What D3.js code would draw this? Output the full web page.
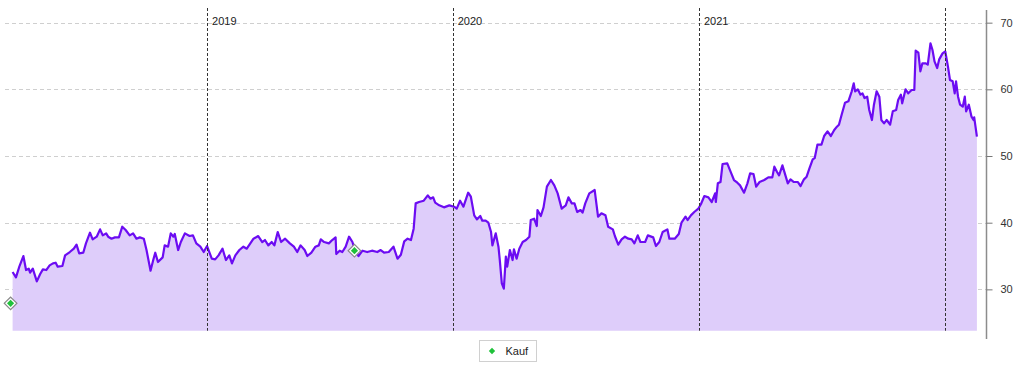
<!DOCTYPE html>
<html>
<head>
<meta charset="utf-8">
<script src="https://cdn.jsdelivr.net/npm/d3@7"></script>
<style>
  html, body { margin: 0; padding: 0; background: #fff; }
  svg { display: block; font-family: "Liberation Sans", Arial, sans-serif; }
</style>
</head>
<body>
<div id="chart"></div>
<script>
/* global d3 */

// closing prices
var priceSeries = [
  ["2018-03-18", 32.6], ["2018-03-23", 31.8], ["2018-03-28", 33.4], ["2018-04-03", 35.0],
  ["2018-04-07", 32.9], ["2018-04-11", 33.1], ["2018-04-13", 32.5], ["2018-04-17", 33.1],
  ["2018-04-23", 31.2], ["2018-04-28", 32.3], ["2018-05-02", 33.0], ["2018-05-07", 32.9],
  ["2018-05-12", 33.6], ["2018-05-17", 33.9], ["2018-05-21", 34.0], ["2018-05-24", 33.4],
  ["2018-05-31", 33.5], ["2018-06-04", 35.1], ["2018-06-11", 35.6], ["2018-06-17", 36.1],
  ["2018-06-21", 36.7], ["2018-06-25", 35.4], ["2018-07-01", 35.5], ["2018-07-05", 36.9],
  ["2018-07-11", 38.5], ["2018-07-15", 37.5], ["2018-07-21", 37.9], ["2018-07-26", 39.0],
  ["2018-07-30", 38.1], ["2018-08-04", 38.4], ["2018-08-07", 37.9], ["2018-08-12", 37.6],
  ["2018-08-17", 37.8], ["2018-08-23", 37.8], ["2018-08-28", 39.4], ["2018-09-02", 38.9],
  ["2018-09-08", 38.1], ["2018-09-13", 38.4], ["2018-09-18", 37.6], ["2018-09-23", 37.8],
  ["2018-09-29", 37.6], ["2018-10-03", 35.9], ["2018-10-09", 32.8], ["2018-10-13", 34.4],
  ["2018-10-16", 35.5], ["2018-10-20", 34.1], ["2018-10-27", 34.8], ["2018-10-30", 36.6],
  ["2018-11-04", 36.4], ["2018-11-08", 38.4], ["2018-11-12", 37.9], ["2018-11-14", 38.3],
  ["2018-11-19", 35.9], ["2018-11-23", 37.1], ["2018-11-29", 38.4], ["2018-12-06", 38.0],
  ["2018-12-11", 38.1], ["2018-12-16", 36.9], ["2018-12-22", 36.4], ["2018-12-27", 35.6],
  ["2019-01-01", 36.5], ["2019-01-08", 34.6], ["2019-01-13", 34.5], ["2019-01-18", 35.1],
  ["2019-01-24", 36.1], ["2019-01-29", 34.4], ["2019-02-03", 35.1], ["2019-02-07", 33.9],
  ["2019-02-12", 35.1], ["2019-02-18", 35.9], ["2019-02-24", 36.4], ["2019-03-01", 36.1],
  ["2019-03-11", 37.6], ["2019-03-18", 38.0], ["2019-03-24", 37.1], ["2019-03-28", 37.4],
  ["2019-04-02", 36.6], ["2019-04-07", 37.1], ["2019-04-11", 36.6], ["2019-04-16", 38.6],
  ["2019-04-21", 37.1], ["2019-04-27", 37.6], ["2019-05-04", 36.9], ["2019-05-10", 36.4],
  ["2019-05-15", 35.6], ["2019-05-20", 36.6], ["2019-05-26", 35.9], ["2019-05-30", 35.0],
  ["2019-06-05", 35.5], ["2019-06-11", 36.4], ["2019-06-16", 36.6], ["2019-06-19", 37.5],
  ["2019-06-24", 37.1], ["2019-07-01", 36.9], ["2019-07-06", 37.4], ["2019-07-11", 37.8],
  ["2019-07-12", 35.3], ["2019-07-17", 35.8], ["2019-07-21", 35.6], ["2019-07-26", 36.4],
  ["2019-07-31", 37.9], ["2019-08-05", 37.1], ["2019-08-08", 36.1], ["2019-08-14", 35.0],
  ["2019-08-20", 35.8], ["2019-08-27", 35.6], ["2019-09-03", 35.8], ["2019-09-11", 35.6],
  ["2019-09-16", 35.9], ["2019-09-21", 35.5], ["2019-09-28", 35.6], ["2019-10-05", 36.4],
  ["2019-10-11", 34.6], ["2019-10-16", 35.2], ["2019-10-21", 37.2], ["2019-10-26", 37.6],
  ["2019-10-31", 37.4], ["2019-11-04", 39.1], ["2019-11-07", 42.9], ["2019-11-12", 43.1],
  ["2019-11-19", 43.3], ["2019-11-25", 44.1], ["2019-11-29", 43.6], ["2019-12-03", 43.8],
  ["2019-12-06", 43.0], ["2019-12-12", 42.6], ["2019-12-19", 42.3], ["2019-12-27", 42.6],
  ["2020-01-03", 42.4], ["2020-01-07", 42.1], ["2020-01-12", 43.3], ["2020-01-17", 42.4],
  ["2020-01-24", 44.5], ["2020-01-28", 43.9], ["2020-02-02", 41.1], ["2020-02-06", 40.5],
  ["2020-02-11", 41.0], ["2020-02-14", 40.3], ["2020-02-19", 40.3], ["2020-02-23", 40.0],
  ["2020-02-27", 38.6], ["2020-02-29", 36.6], ["2020-03-05", 38.4], ["2020-03-09", 36.4],
  ["2020-03-11", 34.4], ["2020-03-14", 30.9], ["2020-03-17", 30.1], ["2020-03-20", 34.9],
  ["2020-03-22", 33.4], ["2020-03-26", 35.9], ["2020-03-30", 34.4], ["2020-04-01", 36.0],
  ["2020-04-05", 34.6], ["2020-04-09", 36.1], ["2020-04-14", 37.1], ["2020-04-19", 37.4],
  ["2020-04-24", 37.9], ["2020-04-26", 40.4], ["2020-05-01", 40.6], ["2020-05-05", 39.5],
  ["2020-05-06", 41.9], ["2020-05-11", 41.0], ["2020-05-15", 42.3], ["2020-05-20", 45.4],
  ["2020-05-26", 46.4], ["2020-05-31", 45.6], ["2020-06-05", 44.4], ["2020-06-11", 42.1],
  ["2020-06-17", 42.6], ["2020-06-21", 43.8], ["2020-06-26", 42.9], ["2020-06-30", 42.9],
  ["2020-07-04", 41.6], ["2020-07-09", 41.9], ["2020-07-12", 41.5], ["2020-07-16", 42.9],
  ["2020-07-22", 44.4], ["2020-07-30", 44.9], ["2020-08-04", 40.9], ["2020-08-09", 41.4],
  ["2020-08-15", 41.1], ["2020-08-19", 39.4], ["2020-08-26", 39.0], ["2020-08-29", 38.0],
  ["2020-09-03", 36.7], ["2020-09-08", 37.5], ["2020-09-13", 37.9], ["2020-09-18", 37.6],
  ["2020-09-23", 37.5], ["2020-09-27", 36.9], ["2020-10-02", 38.1], ["2020-10-06", 37.1],
  ["2020-10-13", 37.1], ["2020-10-17", 38.1], ["2020-10-25", 37.8], ["2020-10-29", 36.5],
  ["2020-11-03", 37.1], ["2020-11-08", 38.6], ["2020-11-15", 39.0], ["2020-11-18", 37.6],
  ["2020-11-26", 37.6], ["2020-12-02", 38.3], ["2020-12-06", 40.0], ["2020-12-12", 40.9],
  ["2020-12-15", 40.4], ["2020-12-20", 41.1], ["2020-12-25", 41.6], ["2020-12-31", 42.1],
  ["2021-01-04", 42.8], ["2021-01-09", 44.0], ["2021-01-15", 43.8], ["2021-01-20", 43.1],
  ["2021-01-25", 44.4], ["2021-01-26", 43.1], ["2021-01-29", 45.9], ["2021-02-02", 46.1],
  ["2021-02-05", 48.8], ["2021-02-12", 48.9], ["2021-02-18", 47.4], ["2021-02-22", 46.4],
  ["2021-02-27", 46.0], ["2021-03-03", 45.6], ["2021-03-09", 44.5], ["2021-03-14", 45.9],
  ["2021-03-18", 47.4], ["2021-03-23", 47.3], ["2021-03-27", 45.4], ["2021-04-01", 46.1],
  ["2021-04-08", 46.4], ["2021-04-14", 46.8], ["2021-04-20", 46.8], ["2021-04-23", 48.4],
  ["2021-04-27", 47.6], ["2021-04-30", 47.1], ["2021-05-05", 48.6], ["2021-05-10", 46.9],
  ["2021-05-13", 45.9], ["2021-05-17", 46.5], ["2021-05-22", 46.1], ["2021-05-28", 46.1],
  ["2021-06-01", 45.5], ["2021-06-06", 46.5], ["2021-06-10", 46.9], ["2021-06-14", 48.1],
  ["2021-06-19", 49.5], ["2021-06-22", 49.7], ["2021-06-26", 51.7], ["2021-07-02", 51.7],
  ["2021-07-06", 53.0], ["2021-07-11", 53.7], ["2021-07-16", 53.0], ["2021-07-21", 53.9],
  ["2021-07-25", 54.4], ["2021-07-28", 54.7], ["2021-08-01", 56.2], ["2021-08-06", 58.0],
  ["2021-08-11", 58.2], ["2021-08-16", 59.7], ["2021-08-19", 60.9], ["2021-08-21", 59.7],
  ["2021-08-25", 60.0], ["2021-08-29", 59.2], ["2021-09-01", 59.4], ["2021-09-04", 58.7],
  ["2021-09-08", 58.9], ["2021-09-11", 56.9], ["2021-09-15", 55.4], ["2021-09-18", 57.7],
  ["2021-09-22", 59.7], ["2021-09-26", 58.9], ["2021-09-29", 55.4], ["2021-10-03", 54.9],
  ["2021-10-07", 55.4], ["2021-10-12", 54.7], ["2021-10-16", 56.7], ["2021-10-21", 56.9],
  ["2021-10-24", 58.4], ["2021-10-28", 59.2], ["2021-10-30", 57.9], ["2021-11-04", 60.0],
  ["2021-11-08", 59.4], ["2021-11-13", 59.9], ["2021-11-17", 59.9], ["2021-11-19", 65.8],
  ["2021-11-23", 65.5], ["2021-11-26", 62.7], ["2021-11-29", 63.9], ["2021-12-04", 63.9],
  ["2021-12-07", 63.7], ["2021-12-11", 66.9], ["2021-12-14", 65.9], ["2021-12-17", 64.2],
  ["2021-12-21", 63.2], ["2021-12-24", 64.5], ["2021-12-29", 65.4], ["2022-01-02", 65.7],
  ["2022-01-06", 63.4], ["2022-01-09", 61.4], ["2022-01-13", 61.2], ["2022-01-16", 59.4],
  ["2022-01-18", 61.2], ["2022-01-21", 58.9], ["2022-01-24", 57.7], ["2022-01-28", 57.4],
  ["2022-01-31", 58.9], ["2022-02-02", 56.7], ["2022-02-06", 57.7], ["2022-02-10", 55.9],
  ["2022-02-13", 55.4], ["2022-02-14", 55.8], ["2022-02-18", 52.9]
];

// "Kauf" (buy) signals
var buyDates = ["2018-03-15", "2019-08-08"];
var buyValues = [27.9, 35.8];

var yearLines = ["2019-01-01", "2020-01-01", "2021-01-01", "2022-01-01"];
var yearLabels = ["2019", "2020", "2021"];
var priceTicks = [30, 40, 50, 60, 70];
var legendLabels = ["Kauf"];

var width = 1024, height = 366;
var plot = {left: 12.6, right: 976.9, top: 10, bottom: 330.7};
var axisX = 986.5;

var parse = d3.utcParse("%Y-%m-%d");
var data = priceSeries.map(function (d) {
    return {date: parse(d[0]), value: d[1]};
});
var buys = buyDates.map(function (d, i) {
    return {date: parse(d), value: buyValues[i]};
});

var x = d3.scaleUtc()
        .domain(d3.extent(data, function (d) { return d.date; }))
        .range([plot.left, plot.right]);

var y = d3.scaleLinear()
        .domain([23.8, 71.9])
        .range([plot.bottom, plot.top]);

var svg = d3.select("#chart")
        .append("svg")
        .attr("width", width)
        .attr("height", height);

// horizontal dashed grid
svg.append("g")
        .attr("class", "grid")
        .selectAll("line")
        .data(priceTicks)
        .enter()
        .append("line")
        .attr("x1", 5)
        .attr("x2", axisX)
        .attr("y1", function (d) { return Math.round(y(d)) + 0.5; })
        .attr("y2", function (d) { return Math.round(y(d)) + 0.5; })
        .style("stroke", "#cfcfcf")
        .style("stroke-width", 1)
        .style("stroke-dasharray", "4,3");

var area = d3.area()
        .x(function (d) { return x(d.date); })
        .y0(plot.bottom)
        .y1(function (d) { return y(d.value); });

var line = d3.line()
        .x(function (d) { return x(d.date); })
        .y(function (d) { return y(d.value); });

svg.append("path")
        .datum(data)
        .attr("d", area)
        .style("fill", "#decdfa");

svg.append("path")
        .datum(data)
        .attr("d", line)
        .style("fill", "none")
        .style("stroke", "#6c0cf2")
        .style("stroke-width", 2.2)
        .style("stroke-linejoin", "round");

// year separators
var years = svg.append("g").attr("class", "years");
years.selectAll("line")
        .data(yearLines)
        .enter()
        .append("line")
        .attr("x1", function (d) { return Math.round(x(parse(d))) + 0.5; })
        .attr("x2", function (d) { return Math.round(x(parse(d))) + 0.5; })
        .attr("y1", 8)
        .attr("y2", plot.bottom)
        .style("stroke", "#333")
        .style("stroke-width", 1)
        .style("stroke-dasharray", "3,2");

years.selectAll("text")
        .data(yearLabels)
        .enter()
        .append("text")
        .attr("x", function (d, i) { return x(parse(yearLines[i])) + 5; })
        .attr("y", 25)
        .style("font-size", "11px")
        .style("fill", "#222")
        .text(function (d) { return d; });

// buy markers
var sq = d3.symbol().type(d3.symbolSquare);
var markers = svg.append("g")
        .selectAll("g")
        .data(buys)
        .enter()
        .append("g")
        .attr("transform", function (d) {
            return "translate(" + x(d.date) + "," + y(d.value) + ") rotate(45)";
        });
markers.append("path")
        .attr("d", sq.size(80))
        .style("fill", "#fff")
        .style("stroke", "#8a8a8a")
        .style("stroke-width", 1.2);
markers.append("path")
        .attr("d", sq.size(26))
        .style("fill", "#1fc23a");

// right axis
var axis = svg.append("g")
        .attr("transform", "translate(" + axisX + ",0)")
        .call(d3.axisRight(y)
                .tickValues(priceTicks)
                .tickSize(6)
                .tickPadding(8)
                .tickSizeOuter(0));
axis.select(".domain")
        .attr("d", "M0," + (plot.top) + "V" + 339)
        .style("stroke", "#8c8c8c")
        .style("stroke-width", 1.5);
axis.selectAll(".tick line")
        .style("stroke", "#777");
axis.selectAll(".tick text")
        .style("font-size", "11px")
        .style("font-family", "Liberation Sans, Arial, sans-serif")
        .style("fill", "#333");

// legend
var legend = svg.append("g").attr("transform", "translate(479.5,340.5)");
legend.append("rect")
        .attr("width", 57)
        .attr("height", 21)
        .style("fill", "#fff")
        .style("stroke", "#d0d0d0");
legend.append("path")
        .attr("transform", "translate(12.5,10.5) rotate(45)")
        .attr("d", d3.symbol().type(d3.symbolSquare).size(20)())
        .style("fill", "#1fc23a");
legend.append("text")
        .attr("x", 26)
        .attr("y", 14.5)
        .style("font-size", "11px")
        .style("fill", "#222")
        .text(legendLabels[0]);
</script>
</body>
</html>
